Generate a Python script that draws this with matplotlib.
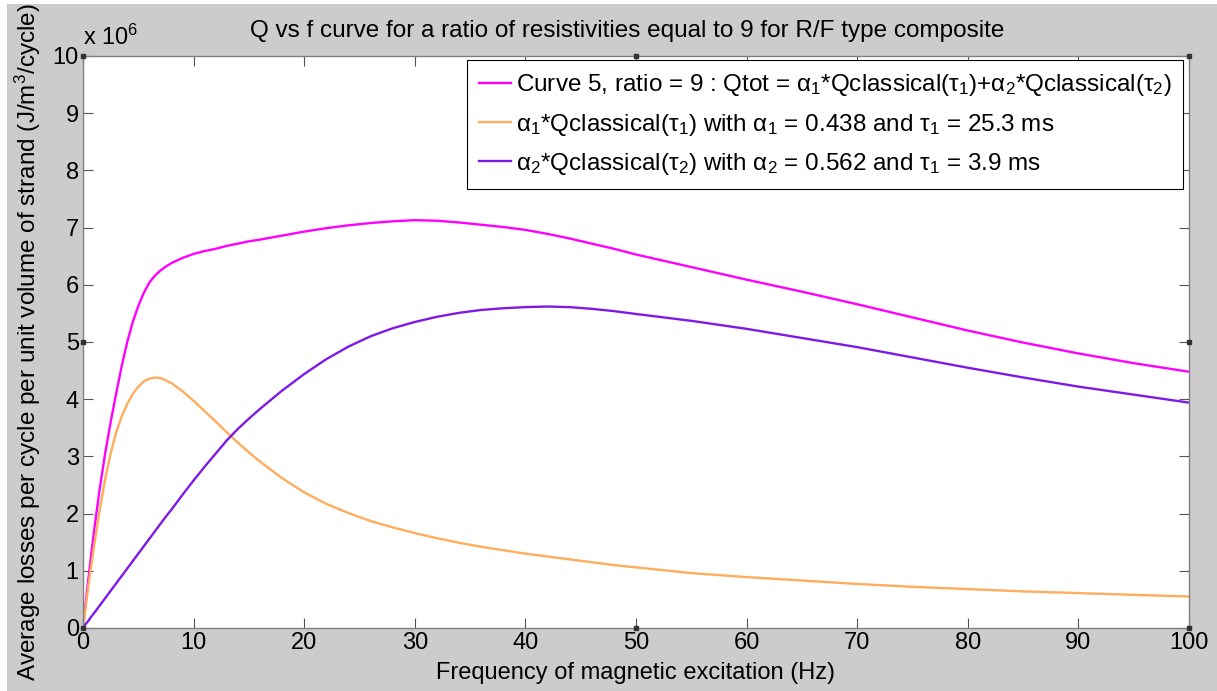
import matplotlib
matplotlib.use("Agg")
import matplotlib.pyplot as plt
from matplotlib.patches import Rectangle

# values (losses in units of 1e6 J/m^3/cycle)
freq = [0, 0.25, 0.5, 0.75, 1, 1.5, 2, 2.5, 3, 3.5, 4, 4.5, 5, 5.5, 6, 6.5, 7, 7.5, 8,
        9, 10, 11, 12, 13, 14, 15, 16, 18, 20, 22, 24, 26, 28, 30, 32, 34, 36, 38, 40,
        42, 44, 46, 48, 50, 55, 60, 65, 70, 75, 80, 85, 90, 95, 100]

q_total = [0, 0.45, 0.88, 1.30, 1.70, 2.42, 3.05, 3.60, 4.10, 4.58, 5.00, 5.35, 5.63, 5.86,
           6.04, 6.16, 6.25, 6.32, 6.38, 6.47, 6.54, 6.59, 6.63, 6.68, 6.72, 6.76, 6.79,
           6.86, 6.93, 6.99, 7.04, 7.08, 7.11, 7.13, 7.12, 7.09, 7.05, 7.01, 6.96, 6.89,
           6.81, 6.72, 6.63, 6.53, 6.31, 6.09, 5.88, 5.66, 5.43, 5.20, 4.99, 4.80, 4.63, 4.48]

q_tau1 = [0, 0.38, 0.75, 1.10, 1.43, 2.05, 2.60, 3.05, 3.42, 3.70, 3.92, 4.09, 4.22, 4.31,
          4.36, 4.38, 4.37, 4.33, 4.28, 4.14, 3.97, 3.79, 3.61, 3.42, 3.24, 3.07, 2.91,
          2.62, 2.37, 2.17, 2.01, 1.87, 1.76, 1.66, 1.57, 1.49, 1.42, 1.36, 1.30, 1.25,
          1.20, 1.15, 1.10, 1.06, 0.96, 0.89, 0.83, 0.77, 0.72, 0.68, 0.64, 0.61, 0.58, 0.55]

q_tau2 = [0, 0.07, 0.13, 0.20, 0.26, 0.39, 0.52, 0.65, 0.78, 0.91, 1.04, 1.17, 1.30, 1.43,
          1.56, 1.69, 1.82, 1.95, 2.07, 2.33, 2.58, 2.82, 3.05, 3.28, 3.48, 3.66, 3.83,
          4.15, 4.44, 4.70, 4.92, 5.10, 5.24, 5.35, 5.44, 5.51, 5.56, 5.59, 5.61, 5.62,
          5.61, 5.58, 5.54, 5.49, 5.37, 5.23, 5.07, 4.91, 4.73, 4.55, 4.38, 4.22, 4.08, 3.94]

labels = [
    r"Curve 5, ratio = 9 : Qtot = α$_1$*Qclassical(τ$_1$)+α$_2$*Qclassical(τ$_2$)",
    r"α$_1$*Qclassical(τ$_1$) with α$_1$ = 0.438 and τ$_1$ = 25.3 ms",
    r"α$_2$*Qclassical(τ$_2$) with α$_2$ = 0.562 and τ$_1$ = 3.9 ms",
]
colors = ["#ff00ff", "#ffad5c", "#7f1ae5"]

x_ticks = list(range(0, 101, 10))
y_ticks = list(range(0, 11))

FS = 17

plt.rcParams["font.family"] = ["Liberation Sans", "DejaVu Sans"]
plt.rcParams["mathtext.fontset"] = "custom"
plt.rcParams["mathtext.rm"] = "Liberation Sans"
plt.rcParams["mathtext.it"] = "Liberation Sans:italic"

fig = plt.figure(figsize=(12.17, 6.91), dpi=100, facecolor="white")
bg = Rectangle((7 / 1217, 0), 1, 1 - 4 / 691, transform=fig.transFigure,
               facecolor="#cccccc", edgecolor="none", zorder=-10)
fig.add_artist(bg)
ax = fig.add_axes([83 / 1217, 63 / 691, 1106 / 1217, 572 / 691])
ax.set_facecolor("white")

for ys, c, lab in zip([q_total, q_tau1, q_tau2], colors, labels):
    ax.plot(freq, ys, color=c, lw=1.7, label=lab)

ax.set_xlim(0, 100)
ax.set_ylim(0, 10)
ax.set_xticks(x_ticks)
ax.set_yticks(y_ticks)
ax.tick_params(direction="in", length=7.5, width=0.8, color="#555555", labelsize=FS,
               top=True, right=True, pad=3)
for s in ax.spines.values():
    s.set_color("#808080")
    s.set_linewidth(1.0)

ax.text(0, 1.01, r"x 10$^{6}$", transform=ax.transAxes, fontsize=FS,
        ha="left", va="bottom")

ax.set_title("Q vs f curve for a ratio of resistivities equal to 9 for R/F type composite",
             fontsize=17.5, pad=14, x=0.492)
ax.set_xlabel("Frequency of magnetic excitation (Hz)", fontsize=FS, labelpad=6)
ax.set_ylabel("Average losses per cycle per unit volume of strand (J/m$^3$/cycle)",
              fontsize=17.5)
ax.yaxis.set_label_coords(-0.036, 0.5)

leg = ax.legend(loc="upper right", bbox_to_anchor=(0.995, 0.993), borderaxespad=0,
                fontsize=17.5, handlelength=1.3, handletextpad=0.2, labelspacing=0.55,
                borderpad=0.5, fancybox=False, framealpha=1)
leg.get_frame().set_edgecolor("black")
leg.get_frame().set_linewidth(0.8)

# edit-mode selection handles around the axes box
handles_pos = [(0, 0), (0.5, 0), (1, 0), (0, 0.5), (1, 0.5), (0, 1), (0.5, 1), (1, 1)]
for hx, hy in handles_pos:
    ax.plot(hx, hy, marker="s", ms=3.5, color="#333333", transform=ax.transAxes,
            clip_on=False, zorder=5)

fig.savefig("out.png", dpi=100, facecolor=fig.get_facecolor())
